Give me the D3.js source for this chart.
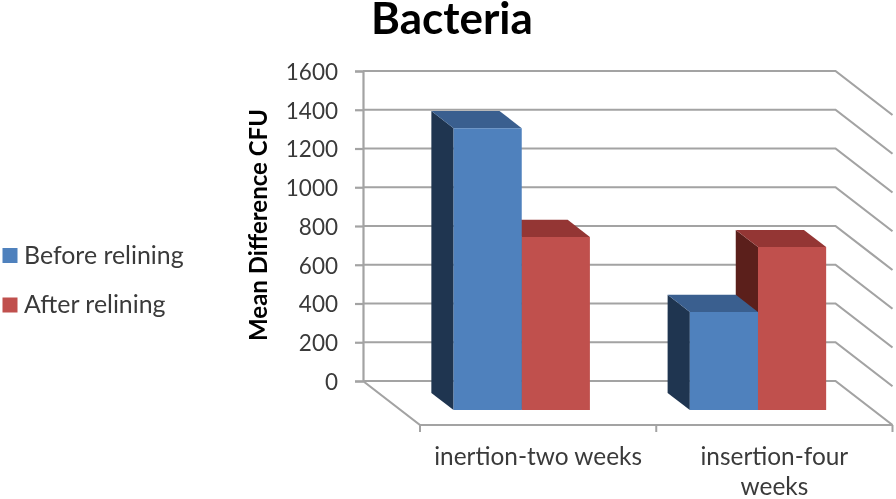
<!DOCTYPE html>
<html>
<head>
<meta charset="utf-8">
<script src="https://cdn.jsdelivr.net/npm/d3@7"></script>
<style>
  html, body { margin: 0; background: #fff; }
  svg { display: block; font-family: Lato, "Open Sans", sans-serif; }
</style>
</head>
<body>
<div id="chart"></div>
<script>
const categories = ["inertion-two weeks", "insertion-four weeks"];
const categoryLines = [["inertion-two weeks"], ["insertion-four", "weeks"]];
const seriesNames = ["Before relining", "After relining"];
const beforeValues = [1455, 506];
const afterValues = [893, 841];
const yTicks = [0, 200, 400, 600, 800, 1000, 1200, 1400, 1600];

const colors = {
  "Before relining": { front: "#4f81bd", top: "#3a5f8f", side: "#1f3550" },
  "After relining": { front: "#c0504d", top: "#943634", side: "#5b1f1b" },
};
const gridColor = "#a3a3a3";
const labelColor = "#3a3a3a";

const width = 896;
const height = 499;

// wall extent and depth of the 3d box
const wallLeft = 363;
const wallRight = 835.5;
const depthX = 57;
const depthY = 44;
const barZ0 = 0.27;
const barZ1 = 0.66;

const svg = d3
  .select("#chart")
  .append("svg")
  .attr("width", width)
  .attr("height", height)
  .style("filter", "blur(0.6px)");

const yScale = d3.scaleLinear().domain([0, 1600]).range([381, 71]);
const xScale = d3
  .scaleBand()
  .domain(categories)
  .range([wallLeft + 3, wallRight + 3])
  .paddingInner(0.423)
  .paddingOuter(0.2115);
const seriesScale = d3
  .scaleBand()
  .domain(seriesNames)
  .range([0, xScale.bandwidth()]);

const project = (x, v, z) => [x + z * depthX, yScale(v) + z * depthY];
const poly = (pts) => pts.map((p) => p.join(",")).join(" ");

// walls
const grid = svg.append("g").attr("fill", "none").attr("stroke", gridColor).attr("stroke-width", 2.2);

yTicks.forEach((t) => {
  grid
    .append("polyline")
    .attr("points", poly([project(wallLeft, t, 0), project(wallRight, t, 0), project(wallRight, t, 1)]));
});

// floor edges
grid.append("polyline")
  .attr("points", poly([project(wallLeft, 0, 0), project(wallLeft, 0, 1), project(wallRight, 0, 1)]));

// y axis
const yAxis = d3.axisLeft(yScale).tickValues(yTicks).tickSize(8).tickPadding(17).tickFormat(d3.format("d"));
const yAxisG = svg.append("g").attr("transform", `translate(${wallLeft},0)`).call(yAxis);
yAxisG.selectAll("path, line").attr("stroke", gridColor).attr("stroke-width", 2.2);
yAxisG.selectAll("text")
  .attr("fill", labelColor)
  .attr("font-size", 22.5)
  .attr("font-family", "Lato, sans-serif")
  .attr("dy", "0.37em");

// x axis ticks on the floor edge
const floorLeft = wallLeft + depthX;
const floorStep = (wallRight - wallLeft) / categories.length;
const tickXs = d3.range(categories.length + 1).map((i) => floorLeft + i * floorStep);
svg.append("g")
  .selectAll("line")
  .data(tickXs)
  .join("line")
  .attr("x1", (d) => d)
  .attr("x2", (d) => d)
  .attr("y1", 425)
  .attr("y2", 432)
  .attr("stroke", gridColor)
  .attr("stroke-width", 2);

// bars, red first so the blue one sits in front of its side face
const bars = svg.append("g");
categories.forEach((c, i) => {
  [...seriesNames].reverse().forEach((s) => {
    const v = s === seriesNames[0] ? beforeValues[i] : afterValues[i];
    const x0 = xScale(c) + seriesScale(s);
    const x1 = x0 + seriesScale.bandwidth();
    const col = colors[s];
    bars.append("polygon").attr("fill", col.side).attr("points", poly([
      project(x0, v, barZ0), project(x0, v, barZ1), project(x0, 0, barZ1), project(x0, 0, barZ0),
    ]));
    bars.append("polygon").attr("fill", col.top).attr("points", poly([
      project(x0, v, barZ0), project(x1, v, barZ0), project(x1, v, barZ1), project(x0, v, barZ1),
    ]));
    bars.append("polygon").attr("fill", col.front).attr("points", poly([
      project(x0, v, barZ1), project(x1, v, barZ1), project(x1, 0, barZ1), project(x0, 0, barZ1),
    ]));
  });
});

// category labels
const catLabels = svg.append("g")
  .attr("font-size", 24.4)
  .attr("fill", labelColor)
  .attr("text-anchor", "middle");
categories.forEach((c, i) => {
  const cx = (tickXs[i] + tickXs[i + 1]) / 2;
  categoryLines[i].forEach((line, j) => {
    catLabels.append("text").attr("x", cx).attr("y", 465 + j * 30).text(line);
  });
});

// titles
svg.append("text")
  .attr("x", 452).attr("y", 34)
  .attr("text-anchor", "middle")
  .attr("font-size", 44)
  .attr("font-weight", 700)
  .attr("fill", "#000")
  .text("Bacteria");

svg.append("text")
  .attr("transform", "translate(267,225) rotate(-90)")
  .attr("text-anchor", "middle")
  .attr("font-size", 24)
  .attr("font-weight", 700)
  .attr("fill", "#000")
  .text("Mean Difference CFU");

// legend
const legendY = d3.scalePoint().domain(seriesNames).range([255.5, 305]);
const legend = svg.append("g")
  .selectAll("g")
  .data(seriesNames)
  .join("g")
  .attr("transform", (d) => `translate(2.5,${legendY(d)})`);
legend.append("rect")
  .attr("y", -7.5).attr("width", 15).attr("height", 15)
  .attr("fill", (d) => colors[d].front);
legend.append("text")
  .attr("x", 21.5).attr("y", 8)
  .attr("font-size", 24.9)
  .attr("fill", labelColor)
  .text((d) => d);
</script>
</body>
</html>
